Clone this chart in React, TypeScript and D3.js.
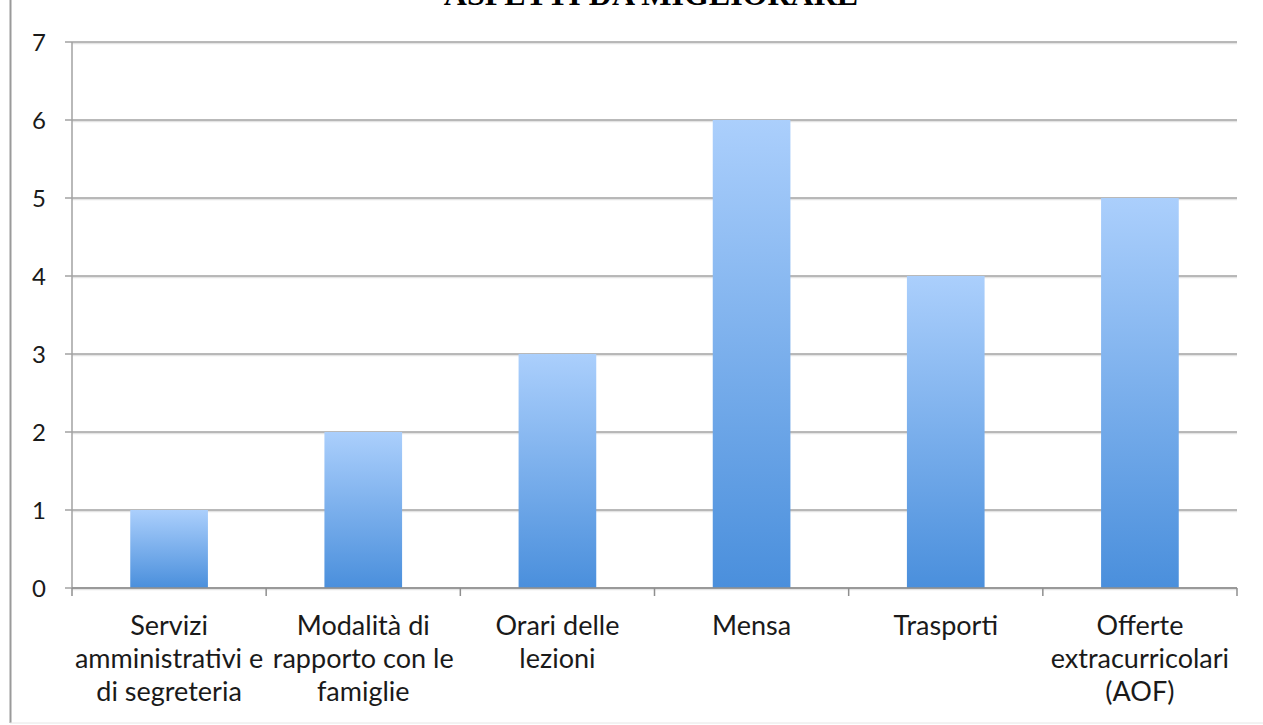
import React from "react";
import * as d3 from "d3";

const title = "ASPETTI DA MIGLIORARE";
const categories: string[][] = [
  ["Servizi", "amministrativi e", "di segreteria"],
  ["Modalità di", "rapporto con le", "famiglie"],
  ["Orari delle", "lezioni"],
  ["Mensa"],
  ["Trasporti"],
  ["Offerte", "extracurricolari", "(AOF)"],
];
const values = [1, 2, 3, 6, 4, 5];
const yTicks = [0, 1, 2, 3, 4, 5, 6, 7];

const W = 1263;
const H = 725;
const left = 72;
const right = 1237;
const top = 42;
const bottom = 588;

export default function App() {
  const keys = categories.map((_, i) => String(i));
  const x = d3.scaleBand<string>().domain(keys).range([left, right]).paddingInner(0).paddingOuter(0);
  const y = d3.scaleLinear().domain([0, 7]).range([bottom, top]);
  const bw = x.bandwidth() * 0.4;
  const font = "Lato, 'Open Sans', sans-serif";
  const grid = "#a2a2a2";
  return (
    <svg
      width={W}
      height={H}
      style={{ position: "absolute", left: 0, top: 0, background: "#fff" }}
    >
      <defs>
        <linearGradient id="barGrad" x1="0" y1="0" x2="0" y2="1">
          <stop offset="0%" stopColor="#abcffc" />
          <stop offset="100%" stopColor="#4a8fdc" />
        </linearGradient>
      </defs>
      {/* page borders */}
      <line x1={10.5} x2={10.5} y1={0} y2={723} stroke="#9a9a9a" strokeWidth={2} />
      <line x1={10} x2={W} y1={723} y2={723} stroke="#e6e6e6" strokeWidth={1} />
      <text
        x={651}
        y={5}
        textAnchor="middle"
        fontFamily="'Liberation Serif', 'Times New Roman', serif"
        fontWeight="bold"
        fontSize={32}
        fill="#000"
      >
        {title}
      </text>
      {/* gridlines */}
      {yTicks.map((t) => (
        <g key={"g" + t}>
          <line x1={left} x2={right} y1={y(t) + 1.5} y2={y(t) + 1.5} stroke="#e4e4e4" strokeWidth={1.5} />
          <line x1={left - 7} x2={right} y1={y(t)} y2={y(t)} stroke={grid} strokeWidth={1.5} />
          <text
            x={46}
            y={y(t)}
            dy="0.36em"
            textAnchor="end"
            fontFamily={font}
            fontSize={24}
            fill="#1a1a1a"
          >
            {t}
          </text>
        </g>
      ))}
      {/* y axis */}
      <line x1={left} x2={left} y1={top} y2={bottom} stroke={grid} strokeWidth={1.5} />
      {/* bars */}
      {values.map((v, i) => {
        const cx = (x(String(i)) as number) + x.bandwidth() / 2;
        return (
          <rect
            key={"b" + i}
            x={cx - bw / 2}
            y={y(v)}
            width={bw}
            height={y(0) - y(v)}
            fill="url(#barGrad)"
          />
        );
      })}
      {/* x axis */}
      <line x1={left} x2={right} y1={bottom} y2={bottom} stroke="#8f8f8f" strokeWidth={1.5} />
      {keys.concat(["end"]).map((k, i) => {
        const xx = k === "end" ? right : (x(k) as number);
        return <line key={"t" + i} x1={xx} x2={xx} y1={bottom} y2={bottom + 8} stroke="#8f8f8f" strokeWidth={1.5} />;
      })}
      {categories.map((lines, i) => {
        const cx = (x(String(i)) as number) + x.bandwidth() / 2;
        return (
          <text key={"l" + i} textAnchor="middle" fontFamily={font} fontSize={27} fill="#1a1a1a">
            {lines.map((ln, j) => (
              <tspan key={j} x={cx} y={635 + j * 33}>
                {ln}
              </tspan>
            ))}
          </text>
        );
      })}
    </svg>
  );
}
